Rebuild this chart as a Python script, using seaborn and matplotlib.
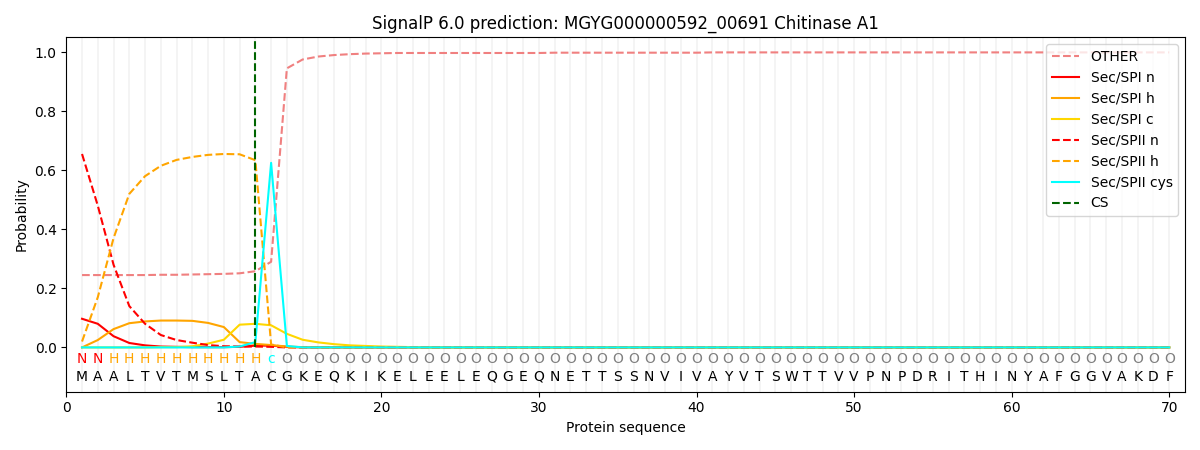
import numpy as np
import pandas as pd
import matplotlib
matplotlib.use("Agg")
import matplotlib.pyplot as plt
import seaborn as sns

title = "SignalP 6.0 prediction: MGYG000000592_00691 Chitinase A1"
sequence = list("MAALTVTMSLTACGKEQKIKELEELEQGEQNETTSSNVIVAYVTSWTTVVPNPDRITHINYAFGGVAKDF")
region_labels = ["N", "N"] + ["H"] * 10 + ["c"] + ["O"] * 57
cs_position = 12

other = [0.245, 0.245, 0.245, 0.245, 0.245, 0.246, 0.246, 0.247, 0.248, 0.249,
         0.251, 0.258, 0.29, 0.945, 0.975, 0.985, 0.99, 0.993, 0.995, 0.996] + [0.997] * 10 + [0.998] * 10 + [0.999] * 30
spi_n = [0.097, 0.08, 0.038, 0.015, 0.007, 0.003, 0.002, 0.001, 0.001, 0.001,
         0.002, 0.006, 0.006, 0.002] + [0.0] * 56
spi_h = [0.0, 0.025, 0.062, 0.082, 0.088, 0.091, 0.091, 0.09, 0.083, 0.069,
         0.018, 0.012, 0.008, 0.003, 0.001] + [0.0] * 55
spi_c = [0.0, 0.0, 0.0, 0.0, 0.0, 0.001, 0.001, 0.004, 0.013, 0.026,
         0.077, 0.080, 0.075, 0.046, 0.026, 0.017, 0.011, 0.007, 0.005, 0.003,
         0.002, 0.001] + [0.0] * 48
spii_n = [0.655, 0.48, 0.28, 0.14, 0.08, 0.042, 0.025, 0.016, 0.008, 0.004,
          0.003, 0.003, 0.002] + [0.0] * 57
spii_h = [0.02, 0.17, 0.37, 0.52, 0.58, 0.615, 0.635, 0.645, 0.652, 0.655,
          0.654, 0.634, 0.01, 0.0] + [0.0] * 56
spii_cys = [0.0] * 10 + [0.003, 0.018, 0.625, 0.005] + [0.0] * 56

label_colors = {"N": "red", "H": "orange", "c": "cyan", "O": "gray"}

pos = np.arange(1, len(sequence) + 1)
series = [
    ("OTHER", other, "lightcoral", "--"),
    ("Sec/SPI n", spi_n, "red", "-"),
    ("Sec/SPI h", spi_h, "orange", "-"),
    ("Sec/SPI c", spi_c, "gold", "-"),
    ("Sec/SPII n", spii_n, "red", "--"),
    ("Sec/SPII h", spii_h, "orange", "--"),
    ("Sec/SPII cys", spii_cys, "cyan", "-"),
]

fig, ax = plt.subplots(figsize=(12, 4.5), dpi=100)

for p in pos:
    ax.axvline(p, color="#f2f2f2", lw=1.2, zorder=0)

for name, vals, col, ls in series:
    df = pd.DataFrame({"pos": pos, "prob": vals})
    sns.lineplot(data=df, x="pos", y="prob", color=col, linestyle=ls, lw=1.5,
                 label=name, ax=ax)

cs_df = pd.DataFrame({"pos": [cs_position, cs_position], "prob": [0.0, 1.04]})
sns.lineplot(data=cs_df, x="pos", y="prob", color="darkgreen", linestyle="--",
             lw=1.5, label="CS", estimator=None, sort=False, ax=ax)

for p, lab, aa in zip(pos, region_labels, sequence):
    ax.text(p, -0.04, lab, ha="center", va="center", fontsize=10,
            color=label_colors[lab])
    ax.text(p, -0.1, aa, ha="center", va="center", fontsize=10, color="black")

ax.set_xlim(0, 71)
ax.set_ylim(-0.15, 1.05)
ax.set_xlabel("Protein sequence")
ax.set_ylabel("Probability")
ax.set_title(title)
ax.legend(loc="upper right")
fig.tight_layout()
fig.savefig("out.png")
